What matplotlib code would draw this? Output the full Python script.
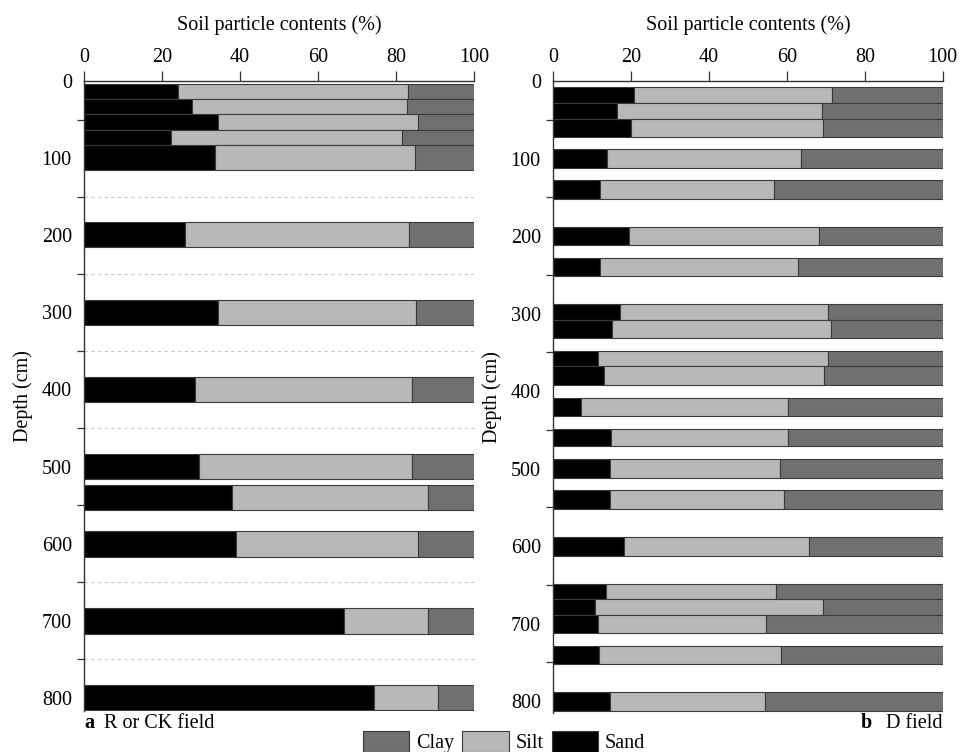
import matplotlib
matplotlib.use("Agg")
import matplotlib.pyplot as plt
from matplotlib.patches import Patch

plt.rcParams['font.family'] = ['Liberation Serif', 'DejaVu Serif']
plt.rcParams['font.size'] = 14.5

# (a) R or CK field: sample depth (cm) and particle contents (%)
depth_a = [13, 33, 53, 73, 99, 199, 300, 400, 500, 540, 600, 700, 800]
sand_a = [24.1, 27.6, 34.4, 22.2, 33.5, 25.8, 34.4, 28.4, 29.4, 37.9, 38.9, 66.7, 74.4]
silt_a = [59.0, 55.3, 51.2, 59.4, 51.4, 57.6, 50.6, 55.6, 54.6, 50.4, 46.8, 21.6, 16.4]
clay_a = [16.9, 17.1, 14.4, 18.4, 15.1, 16.6, 15.0, 16.0, 16.0, 11.7, 14.3, 11.7, 9.2]

# (b) D field
depth_b = [18, 38.4, 60.3, 100, 140, 200, 240, 298.4, 320.1, 358, 380, 420.5,
           460, 500, 540, 600.7, 658.5, 678.7, 700.4, 740.4, 800.6]
sand_b = [20.8, 16.4, 19.9, 13.9, 12.0, 19.5, 11.9, 17.2, 15.2, 11.5, 13.0, 7.2,
          14.8, 14.5, 14.5, 18.2, 13.6, 10.7, 11.6, 11.8, 14.6]
silt_b = [50.8, 52.7, 49.4, 49.6, 44.8, 48.8, 51.0, 53.3, 56.0, 59.0, 56.6, 53.1,
          45.5, 43.8, 44.8, 47.5, 43.7, 58.5, 42.9, 46.7, 39.8]
clay_b = [28.4, 30.9, 30.7, 36.5, 43.2, 31.7, 37.1, 29.5, 28.8, 29.5, 30.4, 39.7,
          39.7, 41.7, 40.7, 34.3, 42.7, 30.8, 45.5, 41.5, 45.6]

major_depths = [0, 100, 200, 300, 400, 500, 600, 700, 800]
minor_depths = [50, 150, 250, 350, 450, 550, 650, 750]
grid_a = [150, 250, 350, 450, 650, 750]

sand_c = 'black'
silt_c = '#b8b8b8'
clay_c = '#707070'
edge_c = '#3a3a3a'

W, H = 960, 752
fig = plt.figure(figsize=(W / 100, H / 100), dpi=100)


def px_axes(x0, x1, y0, y1):
    return fig.add_axes([x0 / W, 1 - y1 / H, (x1 - x0) / W, (y1 - y0) / H])


def draw_panel(ax, depth, sand, silt, clay, heights, ymax):
    left_silt = sand
    left_clay = [s + t for s, t in zip(sand, silt)]
    ax.barh(depth, sand, height=heights, color=sand_c, edgecolor=edge_c, linewidth=0.8)
    ax.barh(depth, silt, left=left_silt, height=heights, color=silt_c,
            edgecolor=edge_c, linewidth=0.8)
    ax.barh(depth, clay, left=left_clay, height=heights, color=clay_c,
            edgecolor=edge_c, linewidth=0.8)
    ax.set_xlim(0, 100)
    ax.set_ylim(ymax, 0)
    ax.xaxis.tick_top()
    ax.xaxis.set_label_position('top')
    ax.set_xticks([0, 20, 40, 60, 80, 100])
    ax.tick_params(axis='x', direction='out', length=7, width=0.9, pad=3, color='#333333')
    ax.set_yticks(major_depths)
    ax.set_yticks(minor_depths, minor=True)
    ax.tick_params(axis='y', which='major', length=0, pad=9)
    ax.tick_params(axis='y', which='minor', length=5, width=0.9, color='#333333')
    for s in ['right', 'bottom']:
        ax.spines[s].set_visible(False)
    for s in ['left', 'top']:
        ax.spines[s].set_color('#333333')
        ax.spines[s].set_linewidth(1.0)
    ax.set_xlabel('Soil particle contents (%)', labelpad=13)
    ax.set_ylabel('Depth (cm)', labelpad=6)


ax_a = px_axes(84.3, 474, 81, 711)
heights_a = [19.5, 19.5, 20.5, 20, 33, 32.5, 32.5, 32.5, 32.5, 32.5, 33.5, 33, 32.5]
for g in grid_a:
    ax_a.axhline(g, color='#c8c8c8', linestyle=(0, (3, 3)), linewidth=0.8, zorder=0)
draw_panel(ax_a, depth_a, sand_a, silt_a, clay_a, heights_a, 817)

ax_b = px_axes(553.3, 942.7, 81, 712.7)
heights_b = [20, 20.6, 23.2, 24, 25, 23.6, 24.1, 20.6, 22.8, 19.7, 23.6, 24.1,
             22.8, 23.7, 23.7, 23.7, 19.7, 20.6, 22.8, 23.6, 23.7]
draw_panel(ax_b, depth_b, sand_b, silt_b, clay_b, heights_b, 815)

# panel labels
fig.text(84 / W, 1 - 723 / H, 'a', weight='bold', va='center', ha='left')
fig.text(104 / W, 1 - 723 / H, 'R or CK field', va='center', ha='left')
fig.text(942 / W, 1 - 723 / H, 'D field', va='center', ha='right')
fig.text(872 / W, 1 - 723 / H, 'b', weight='bold', va='center', ha='right')

handles = [Patch(facecolor=clay_c, edgecolor=edge_c, linewidth=0.8, label='Clay'),
           Patch(facecolor=silt_c, edgecolor=edge_c, linewidth=0.8, label='Silt'),
           Patch(facecolor=sand_c, edgecolor=edge_c, linewidth=0.8, label='Sand')]
fig.legend(handles=handles, loc='upper center', bbox_to_anchor=(504 / W, 1 - 731 / H),
           ncol=3, frameon=False, handlelength=2.3, handleheight=1.2,
           handletextpad=0.35, columnspacing=0.4, borderpad=0, borderaxespad=0)

fig.savefig('out.png', dpi=100)
